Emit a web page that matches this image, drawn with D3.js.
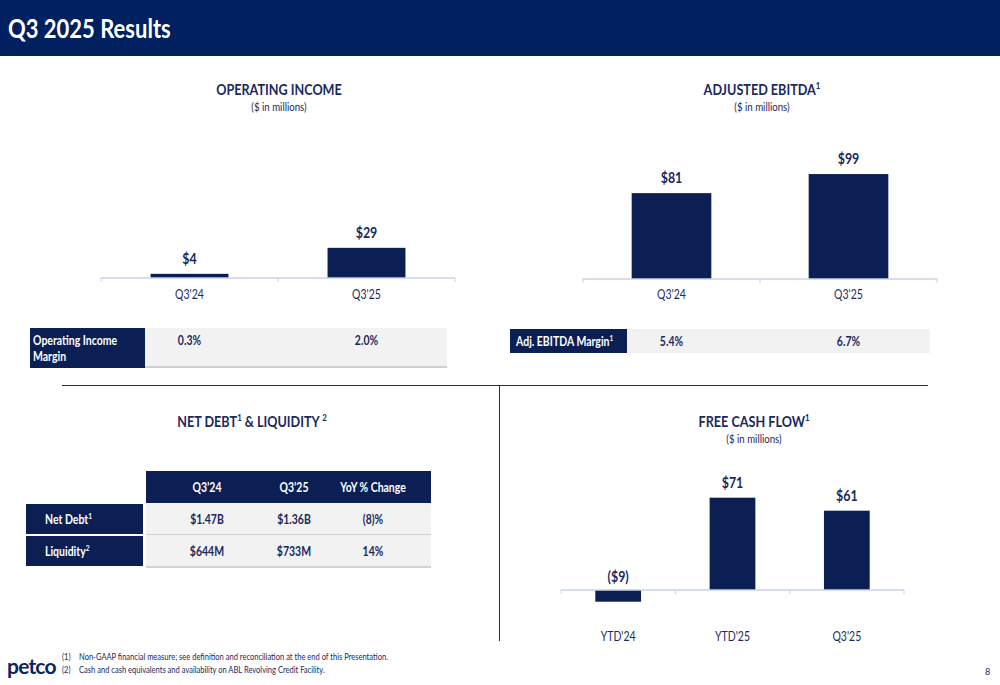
<!DOCTYPE html>
<html><head><meta charset="utf-8">
<script src="https://cdn.jsdelivr.net/npm/d3@7"></script>
<style>body{margin:0;background:#fff}svg{display:block}text{font-family:Lato,"Open Sans",sans-serif}</style>
</head><body>
<svg id="c" width="1000" height="685"></svg>
<script>
const opCategories = ["Q3'24", "Q3'25"];
const opValues = [4, 29];
const opMargins = ["0.3%", "2.0%"];
const ebitdaCategories = ["Q3'24", "Q3'25"];
const ebitdaValues = [81, 99];
const ebitdaMargins = ["5.4%", "6.7%"];
const fcfCategories = ["YTD'24", "YTD'25", "Q3'25"];
const fcfValues = [-9, 71, 61];
const debtColumns = ["Q3\u201924", "Q3\u201925", "YoY % Change"];
const debtRows = ["Net Debt", "Liquidity"];
const debtSup = ["1", "2"];
const debtValues = [["$1.47B", "$1.36B", "(8)%"], ["$644M", "$733M", "14%"]];

const NAVY = "#0c1f55", TXT = "#1b2a5c", AX = "#c8d2e4", GRAY = "#f2f2f2";
const svg = d3.select("#c");
const SX = 0.84;

function txt(x, y, parts, o = {}) {
  const g = svg.append("g").attr("transform", `translate(${x},${y}) scale(${o.sx ?? SX},1)`);
  const t = g.append("text").attr("x",0).attr("y",0)
    .attr("text-anchor", o.anchor || "start").attr("fill", o.fill || TXT)
    .attr("font-size", o.size || 12).attr("font-weight", o.weight || 400);
  if (typeof parts === "string") parts = [[parts, false]];
  let up = false;
  const s0 = o.size || 12;
  parts.forEach(([s, sup]) => {
    const sp = t.append("tspan").text(s);
    if (sup) { sp.attr("font-size", s0*0.62); if (!up) { sp.attr("dy", -s0*0.4); up = true; } }
    else if (up) { sp.attr("dy", s0*0.4); up = false; }
  });
  return t;
}

// header
svg.append("rect").attr("x",0).attr("y",0).attr("width",1000).attr("height",56).attr("fill","#002060");
txt(8, 38, "Q3 2025 Results", {size:26.5, weight:700, fill:"#fff", sx:0.83});

function title(x, y, parts, sub) {
  txt(x, y, parts, {anchor:"middle", size:16, weight:700, sx:0.79});
  if (sub) txt(x, y+16, sub, {anchor:"middle", size:11.5, sx:0.84});
}

function barChart(cats, vals, x0, x1, yAxis, pxPerUnit, pad, labelFmt, catY) {
  const x = d3.scaleBand().domain(cats).range([x0,x1]).paddingInner(pad).paddingOuter(pad/2);
  const y = d3.scaleLinear().domain([0,100]).range([yAxis, yAxis - 100*pxPerUnit]);
  const g = svg.append("g");
  g.selectAll("rect").data(vals).join("rect")
    .attr("x",(d,i)=>x(cats[i])).attr("width",x.bandwidth())
    .attr("y",d=>Math.min(y(d),y(0))).attr("height",d=>Math.abs(y(d)-y(0)))
    .attr("fill",NAVY);
  g.append("line").attr("x1",x0).attr("x2",x1).attr("y1",y(0)).attr("y2",y(0)).attr("stroke",AX).attr("stroke-width",1.5);
  for (let i=0;i<=cats.length;i++){
    const tx = x0 + i*((x1-x0)/cats.length);
    g.append("line").attr("x1",tx).attr("x2",tx).attr("y1",y(0)).attr("y2",y(0)+4).attr("stroke",AX).attr("stroke-width",1);
  }
  vals.forEach((d,i)=>{
    const cx = x(cats[i]) + x.bandwidth()/2;
    txt(cx, d>=0 ? y(d)-10 : y(0)-8, labelFmt(d), {anchor:"middle", size:15.5, weight:700, sx:0.8});
  });
  cats.forEach(c=>{
    txt(x(c)+x.bandwidth()/2, catY, c, {anchor:"middle", size:12.5, sx:0.84});
  });
}
const fmt = d => d<0 ? `($${-d})` : `$${d}`;

// Operating income
title(279, 95, "OPERATING INCOME", "($ in millions)");
barChart(opCategories, opValues, 101, 455, 278, 1.04, 0.56, fmt, 299);
svg.append("rect").attr("x",145).attr("y",328).attr("width",302).attr("height",38).attr("fill",GRAY);
svg.append("line").attr("x1",145).attr("x2",447).attr("y1",367).attr("y2",367).attr("stroke","#bfbfbf").attr("stroke-width",1.5);
svg.append("rect").attr("x",30).attr("y",328).attr("width",115).attr("height",40).attr("fill",NAVY);
txt(33, 345, "Operating Income", {size:12.5, weight:700, fill:"#fff"});
txt(33, 361, "Margin", {size:12.5, weight:700, fill:"#fff"});
{
  const x = d3.scaleBand().domain(opCategories).range([101,455]);
  opMargins.forEach((m,i)=> txt(x(opCategories[i])+x.bandwidth()/2, 345, m, {anchor:"middle", size:12.5, weight:700}));
}

// Adjusted EBITDA
title(762, 95, [["ADJUSTED EBITDA",false],["1",true]], "($ in millions)");
barChart(ebitdaCategories, ebitdaValues, 583, 937, 279, 1.06, 0.55, fmt, 299);
svg.append("rect").attr("x",627).attr("y",329).attr("width",303).attr("height",24).attr("fill",GRAY);
svg.append("rect").attr("x",510).attr("y",329).attr("width",117).attr("height",24).attr("fill",NAVY);
txt(516, 346, [["Adj. EBITDA Margin",false],["1",true]], {size:12.5, weight:700, fill:"#fff"});
{
  const x = d3.scaleBand().domain(ebitdaCategories).range([583,937]);
  ebitdaMargins.forEach((m,i)=> txt(x(ebitdaCategories[i])+x.bandwidth()/2, 346, m, {anchor:"middle", size:12.5, weight:700}));
}

// dividers
svg.append("line").attr("x1",62).attr("x2",928).attr("y1",385.5).attr("y2",385.5).attr("stroke","#1f2e5e").attr("stroke-width",1);
svg.append("line").attr("x1",499.5).attr("x2",499.5).attr("y1",386).attr("y2",641).attr("stroke","#1f2e5e").attr("stroke-width",1);

// Net debt & liquidity
{
  title(252, 427, [["NET DEBT",false],["1",true],[" & LIQUIDITY ",false],["2",true]]);
  const xs = [207, 294, 373];
  svg.append("rect").attr("x",146).attr("y",471).attr("width",285).attr("height",32).attr("fill",NAVY);
  debtColumns.forEach((c,i)=> txt(xs[i], 492, c, {anchor:"middle", size:12.5, weight:700, fill:"#fff"}));
  const rowY = d3.scaleBand().domain(debtRows).range([503,567]);
  debtRows.forEach((r,i)=>{
    const y0 = rowY(r);
    svg.append("rect").attr("x",146).attr("y",y0).attr("width",285).attr("height",rowY.bandwidth()).attr("fill",GRAY);
    svg.append("line").attr("x1",146).attr("x2",431).attr("y1",y0+rowY.bandwidth()).attr("y2",y0+rowY.bandwidth()).attr("stroke","#c4c4c4").attr("stroke-width",1.5);
    svg.append("rect").attr("x",26).attr("y",y0+1).attr("width",117).attr("height",rowY.bandwidth()-2).attr("fill",NAVY);
    txt(45, y0+21, [[r,false],[debtSup[i],true]], {size:12.5, weight:700, fill:"#fff"});
    debtValues[i].forEach((v,j)=> txt(xs[j], y0+21, v, {anchor:"middle", size:12.5, weight:700}));
  });
}

// Free cash flow
title(754, 427, [["FREE CASH FLOW",false],["1",true]], "($ in millions)");
barChart(fcfCategories, fcfValues, 561, 904, 590, 1.3, 0.6, fmt, 641);

// footnotes
txt(62, 660, "(1)", {size:9.2, sx:0.82});
txt(79, 660, "Non-GAAP financial measure; see definition and reconciliation at the end of this Presentation.", {size:9.2, sx:0.82});
txt(62, 673, "(2)", {size:9.2, sx:0.82});
txt(79, 673, "Cash and cash equivalents and availability on ABL Revolving Credit Facility.", {size:9.2, sx:0.82});
svg.append("text").attr("x",7).attr("y",674).attr("fill","#0c2463").attr("font-size",21).attr("font-weight",700)
  .attr("font-family","Lato, sans-serif").attr("letter-spacing",-0.8).text("petco");
txt(985, 675, "8", {size:10, sx:0.9});
</script>
</body></html>
